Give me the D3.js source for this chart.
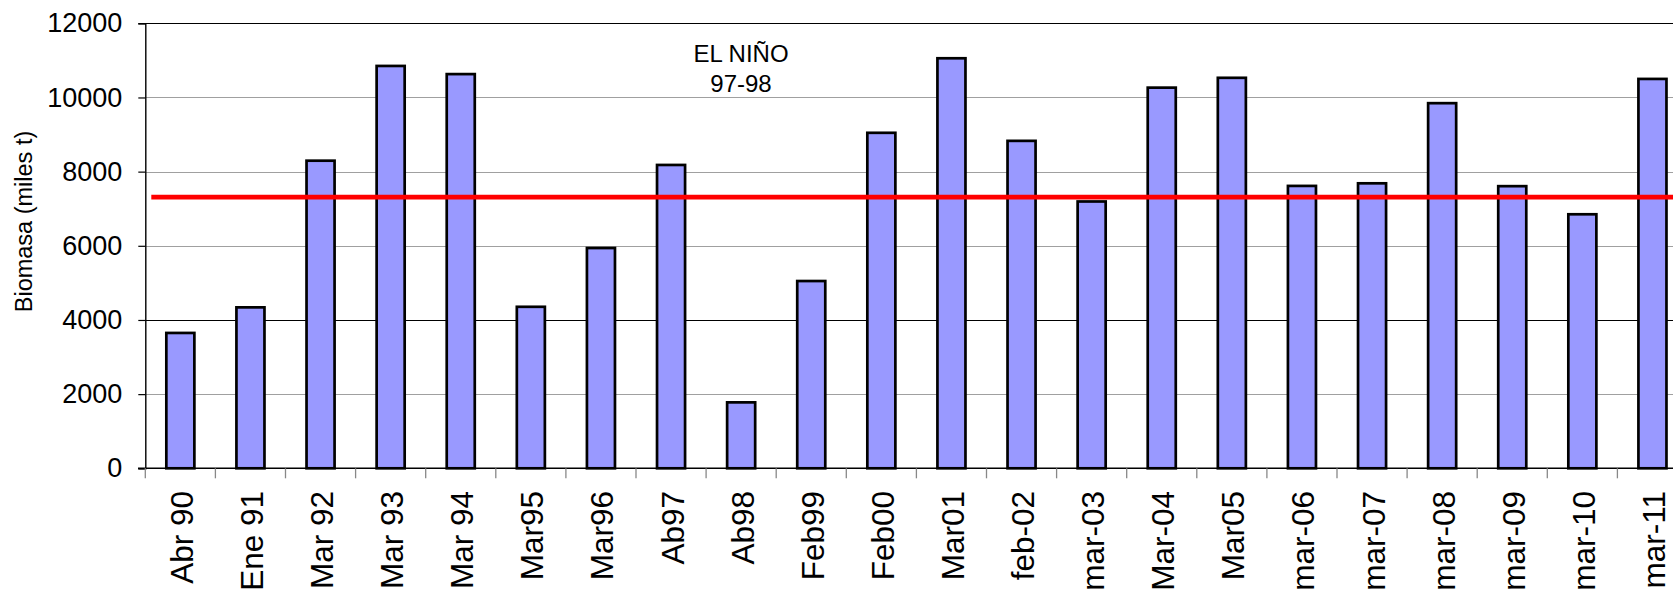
<!DOCTYPE html>
<html>
<head>
<meta charset="utf-8">
<script src="https://cdn.jsdelivr.net/npm/d3@7/dist/d3.min.js"></script>
<style>
  html, body { margin: 0; padding: 0; background: #fff; overflow: hidden; }
  svg { display: block; font-family: "Liberation Sans", Arial, sans-serif; }
</style>
</head>
<body>
<svg id="chart" width="1673" height="594"></svg>
<script>
const categories = ["Abr 90","Ene 91","Mar 92","Mar 93","Mar 94","Mar95","Mar96","Ab97","Ab98","Feb99","Feb00","Mar01","feb-02","mar-03","Mar-04","Mar05","mar-06","mar-07","mar-08","mar-09","mar-10","mar-11"];
const biomasa = [3650,4340,8295,10850,10630,4355,5940,8180,1778,5050,9047,11057,8830,7195,10265,10530,7615,7685,9846,7608,6850,10500];
const referenceLevel = 7310;
const yTicks = [0,2000,4000,6000,8000,10000,12000];
const yTitle = "Biomasa (miles t)";
const annotation = ["EL NIÑO","97-98"];

(function () {
const svg = d3.select("#chart");
const pLeft = 145.3, pTop = 23.3, pBottom = 468.3, step = 70.1;
const pRight = pLeft + step * categories.length;

const x = d3.scaleBand().domain(categories).range([pLeft, pRight]).paddingInner(0.6).paddingOuter(0.3);
const xb = d3.scaleBand().domain(categories).range([pLeft, pRight]);
const y = d3.scaleLinear().domain([0, 12000]).range([pBottom, pTop]);

// gridlines
svg.append("g").selectAll("line").data(yTicks.filter(d => d > 0)).join("line")
  .attr("x1", pLeft).attr("x2", pRight)
  .attr("y1", d => Math.round(y(d)) + 0.5).attr("y2", d => Math.round(y(d)) + 0.5)
  .attr("stroke", d => (d === 4000 || d === 12000) ? "#000" : "#a0a0a0")
  .attr("stroke-width", 1.2);

// y axis
const yAxis = d3.axisLeft(y).tickValues(yTicks).tickSize(7).tickPadding(16).tickFormat(d3.format("d"));
const gy = svg.append("g").attr("transform", `translate(${pLeft},0)`).call(yAxis);
gy.select(".domain").attr("stroke", "#000").attr("stroke-width", 1.4);
gy.selectAll(".tick line").attr("stroke", "#000").attr("stroke-width", 1.2);
gy.selectAll(".tick text").attr("font-size", 27).attr("fill", "#000")
  .attr("font-family", "'Liberation Sans', Arial, sans-serif");

// bars
svg.append("g").selectAll("rect").data(biomasa).join("rect")
  .attr("x", (d, i) => x(categories[i]))
  .attr("width", x.bandwidth())
  .attr("y", d => y(d))
  .attr("height", d => y(0) - y(d))
  .attr("fill", "#9999ff")
  .attr("stroke", "#000")
  .attr("stroke-width", 2.7);

// x axis
svg.append("line").attr("x1", 138).attr("x2", pRight).attr("y1", pBottom).attr("y2", pBottom)
  .attr("stroke", "#000").attr("stroke-width", 1.4);
svg.append("g").selectAll("line").data(categories).join("line")
  .attr("x1", d => xb(d)).attr("x2", d => xb(d))
  .attr("y1", pBottom).attr("y2", pBottom + 10)
  .attr("stroke", "#888").attr("stroke-width", 1.3);
svg.append("g").selectAll("text").data(categories).join("text")
  .attr("transform", d => `translate(${xb(d) + xb.bandwidth() / 2 + 12.5},491) rotate(-90)`)
  .attr("text-anchor", "end")
  .attr("font-size", 31.5)
  .attr("fill", "#000")
  .text(d => d);

// reference line
svg.append("line")
  .attr("x1", pLeft + 6).attr("x2", pRight)
  .attr("y1", y(referenceLevel)).attr("y2", y(referenceLevel))
  .attr("stroke", "#ff0000").attr("stroke-width", 4.7);

// y title
svg.append("text")
  .attr("transform", "translate(31.5,221.5) rotate(-90)")
  .attr("text-anchor", "middle")
  .attr("font-size", 23.5)
  .attr("fill", "#000")
  .text(yTitle);

// annotation
svg.append("g").selectAll("text").data(annotation).join("text")
  .attr("x", 741).attr("y", (d, i) => 61.7 + i * 30)
  .attr("text-anchor", "middle")
  .attr("font-size", 24)
  .attr("fill", "#000")
  .text(d => d);
})();
</script>
</body>
</html>
